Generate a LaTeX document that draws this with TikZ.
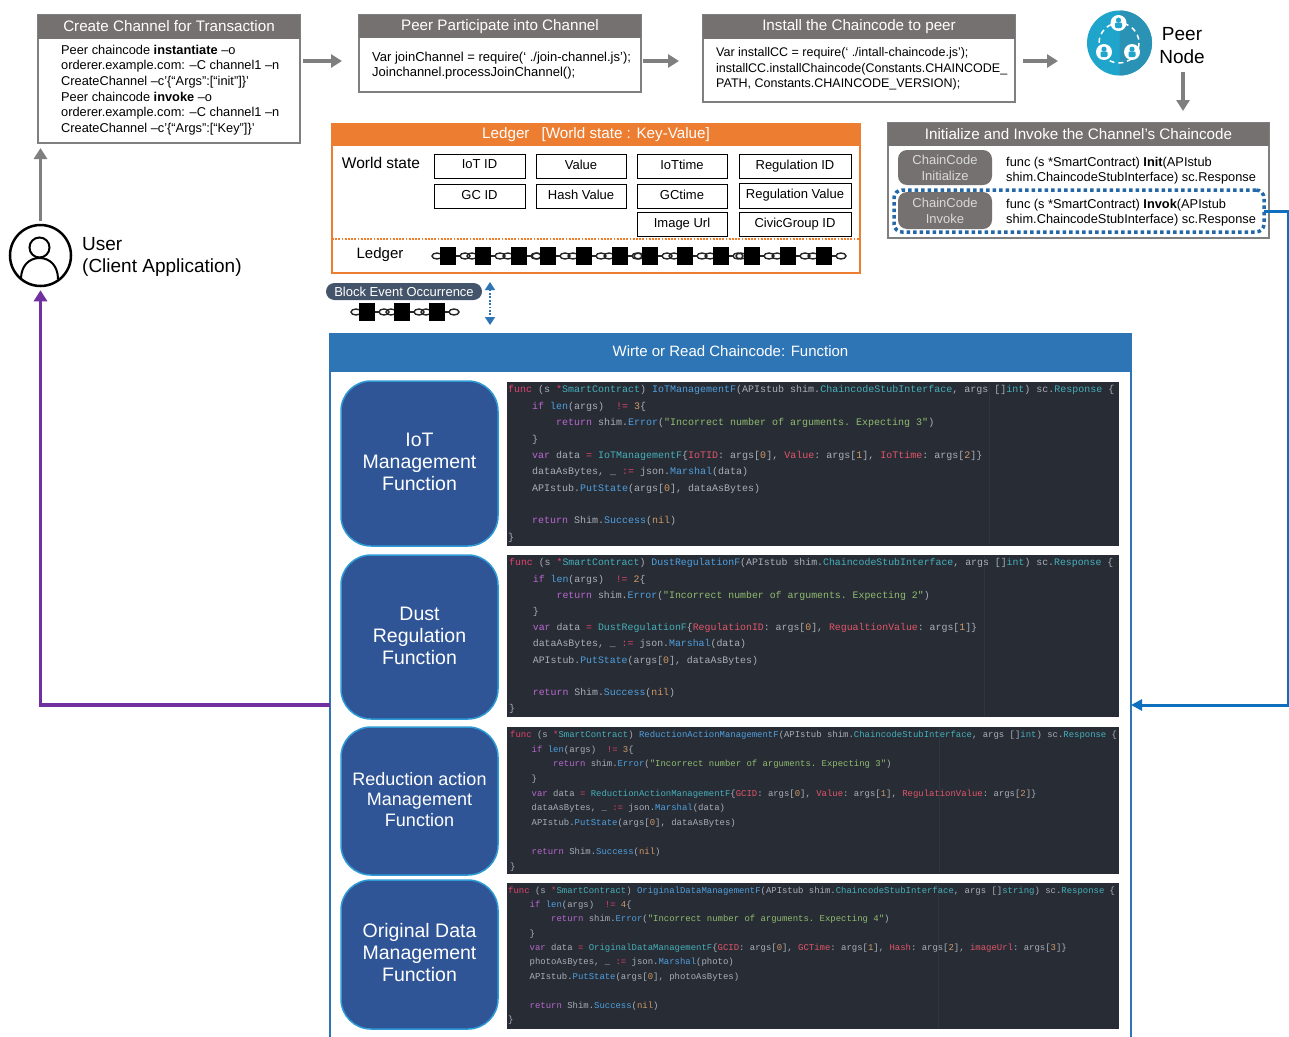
\documentclass[tikz,border=0pt]{standalone}
\usepackage{fontspec}
\setmainfont{Liberation Sans}
\setmonofont{Liberation Mono}
\usetikzlibrary{arrows.meta,calc}
\definecolor{hdgray}{HTML}{767171}
\definecolor{framegray}{HTML}{7F7F7F}
\definecolor{ledgerorange}{HTML}{ED7D31}
\definecolor{panelblue}{HTML}{2E75B6}
\definecolor{fnblue}{HTML}{2F5597}
\definecolor{fnedge}{HTML}{2E9AD6}
\definecolor{pillslate}{HTML}{44546A}
\definecolor{dotblue}{HTML}{2468A8}
\definecolor{userpurple}{HTML}{7030A0}
\definecolor{linkblue}{HTML}{0F6FBF}
\definecolor{peerteal}{HTML}{1FA5CB}
\definecolor{peerdark}{HTML}{2A92B4}
\definecolor{codebg}{HTML}{282C34}
\definecolor{codeline}{HTML}{30353F}
\definecolor{cPlain}{HTML}{A9AFBA}
\definecolor{cFunc}{HTML}{E0446E}
\definecolor{cKey}{HTML}{B868D0}
\definecolor{cFn}{HTML}{4FA0E0}
\definecolor{cType}{HTML}{45B0BC}
\definecolor{cStr}{HTML}{90BC70}
\definecolor{cNum}{HTML}{D19A66}
\definecolor{cField}{HTML}{E0566A}
\newcommand{\cF}[1]{\textcolor{cFunc}{#1}}
\newcommand{\cK}[1]{\textcolor{cKey}{#1}}
\newcommand{\cB}[1]{\textcolor{cFn}{#1}}
\newcommand{\cT}[1]{\textcolor{cType}{#1}}
\newcommand{\cS}[1]{\textcolor{cStr}{#1}}
\newcommand{\cN}[1]{\textcolor{cNum}{#1}}
\newcommand{\cR}[1]{\textcolor{cField}{#1}}
\newcommand{\inA}{\phantom{0000}}
\newcommand{\inB}{\phantom{00000000}}
% name, x1, y1, x2, y2, style, text
\newcommand{\rnode}[7]{\node[inner sep=0pt,outer sep=0pt,anchor=north west,minimum width={(#4-(#2))*1pt},minimum height={(#5-(#3))*1pt},#6] (#1) at (#2,#3) {#7};}
% prefix, y, block list
\newcommand{\chainrow}[3]{%
  \foreach \bx in {#3} {
    \draw[chainlink] (\bx-11,#2) ellipse [x radius=5,y radius=3];
    \draw[chainlink] (\bx+17,#2) ellipse [x radius=5,y radius=3];
    \draw[chainlink] (\bx+7,#2) -- (\bx+12,#2);
  }
  \foreach \bx in {#3} {
    \node[chainblock] (#1\bx) at (\bx,#2) {};
  }
}
% name, x, y
\newcommand{\peerperson}[3]{%
  \node[circle,fill=white,minimum size=16pt,inner sep=0pt] (#1) at (#2,#3) {};
  \fill[peerteal] (#2,#3-2.8) circle [radius=2.6];
  \fill[peerteal,rounded corners=1.2pt] (#2-3.5,#3+5) rectangle (#2+3.5,#3-0.5);
}
\tikzset{
  x=1pt,y=-1pt,
  frame/.style={draw=framegray,line width=2pt,fill=white},
  header/.style={fill=hdgray,text=white,font=\fontsize{15.2}{18}\selectfont},
  body/.style={anchor=west,inner sep=0pt,align=left,font=\fontsize{12.8}{15.6}\selectfont},
  garrow/.style={draw=framegray,line width=3.5pt,-{Triangle[length=11pt,width=13pt]}},
  cell/.style={draw=black,line width=1pt,fill=white,text depth=3pt,font=\fontsize{13}{15}\selectfont},
  pill/.style={fill=hdgray,rounded corners=9pt,text=black!15,align=center,font=\fontsize{13}{16.2}\selectfont},
  fnbox/.style={fill=fnblue,draw=fnedge,line width=1.5pt,rounded corners=30pt,text=white,align=center},
  codepanel/.style={fill=codebg},
  codetext/.style={anchor=north west,inner sep=0pt,align=left,text=cPlain},
  chainlink/.style={draw=black!85,line width=1.4pt},
  chainblock/.style={fill=black,minimum width=16pt,minimum height=17.5pt,inner sep=0pt},
}
\begin{document}
\begin{tikzpicture}
\useasboundingbox (0,0) rectangle (1289,1036);
\clip (0,0) rectangle (1289,1036);
\fill[white] (0,0) rectangle (1289,1036);

% main panel
\rnode{mainp}{330}{334}{1131}{1070}{draw=panelblue,line width=2pt,fill=white}{}
\rnode{mainh}{330}{334}{1131}{372}{fill=panelblue,text=white,text depth=4pt,font=\fontsize{15}{17}\selectfont}{Wirte or Read Chaincode: Function}

% top boxes
\rnode{b1}{38}{15}{300}{143}{frame}{}
\rnode{b1h}{38}{15}{300}{39}{header,text depth=2pt}{Create Channel for Transaction}
\node[body] (b1t) at (61,90) {Peer chaincode \textbf{instantiate} –o\\orderer.example.com: –C channel1 –n\\CreateChannel –c'\{“Args”:[“init”]\}'\\Peer chaincode \textbf{invoke} –o\\orderer.example.com: –C channel1 –n\\CreateChannel –c'\{“Args”:[“Key”]\}'};

\rnode{b2}{359}{15}{641}{92}{frame}{}
\rnode{b2h}{359}{15}{641}{38}{header}{Peer Participate into Channel}
\node[body,font=\fontsize{13}{15.5}\selectfont] (b2t) at (372,65.5) {Var joinChannel = require(‘ ./join-channel.js’);\\Joinchannel.processJoinChannel();};

\rnode{b3}{703}{15}{1015}{102}{frame}{}
\rnode{b3h}{703}{15}{1015}{39}{header}{Install the Chaincode to peer}
\node[body,font=\fontsize{12.5}{15.5}\selectfont] (b3t) at (716,69) {Var installCC = require(‘ ./intall-chaincode.js’);\\installCC.installChaincode(Constants.CHAINCODE\_\\PATH, Constants.CHAINCODE\_VERSION);};

% peer icon
\fill[peerteal] (1119.5,43) circle [radius=32.5];
\fill[peerdark] (1119.5,10.5) arc [start angle=-90,end angle=90,radius=32.5] -- cycle;
\draw[white,line width=1.5pt,dash pattern=on 5pt off 4pt] (1119,43) circle [radius=20];
\peerperson{pp1}{1118.5}{23}
\peerperson{pp2}{1104}{52}
\peerperson{pp3}{1132}{52}
\node[font=\fontsize{19}{23}\selectfont,align=center,inner sep=0pt] (peer) at (1182,45.5) {Peer\\Node};
\coordinate (peerarrow) at (1183,72);

% chaincode box
\rnode{b4}{888}{123}{1269}{238}{frame}{}
\rnode{b4h}{888}{123}{1269}{146}{header}{Initialize and Invoke the Channel’s Chaincode}
\rnode{dots}{894}{190}{1264}{232}{draw=dotblue,line width=3.5pt,dash pattern=on 3.5pt off 3pt,rounded corners=8pt}{}
\rnode{pinit}{898}{150}{992}{185}{pill}{ChainCode\\Initialize}
\rnode{pinv}{898}{192}{992}{229}{pill}{ChainCode\\Invoke}
\node[body] (t1) at (1006,170.5) {func (s *SmartContract) \textbf{Init}(APIstub\\shim.ChaincodeStubInterface) sc.Response};
\node[body] (t2) at (1006,212.5) {func (s *SmartContract) \textbf{Invok}(APIstub\\shim.ChaincodeStubInterface) sc.Response};

% ledger
\rnode{led}{332}{124}{860}{273}{draw=ledgerorange,line width=2.5pt,fill=white}{}
\rnode{ledh}{332}{124}{860}{146}{fill=ledgerorange,text=white,font=\fontsize{15.2}{17}\selectfont}{\raisebox{-1.5pt}{Ledger\hspace{0.8em}[World state : Key-Value]}}
\node[font=\fontsize{15.5}{18}\selectfont,inner sep=0pt] (ws) at (381,163) {World state};
\rnode{c11}{434}{154}{525}{178}{cell}{IoT ID}
\rnode{c12}{536}{154}{626}{178}{cell}{Value}
\rnode{c13}{637}{154}{727}{178}{cell}{IoTtime}
\rnode{c14}{739}{154}{851}{178}{cell}{Regulation ID}
\rnode{c21}{434}{184}{525}{208}{cell}{GC ID}
\rnode{c22}{536}{184}{626}{208}{cell}{Hash Value}
\rnode{c23}{637}{184}{727}{208}{cell}{GCtime}
\rnode{c24}{739}{183}{851}{208}{cell}{Regulation Value}
\rnode{c33}{637}{212}{727}{236}{cell}{Image Url}
\rnode{c34}{739}{212}{851}{236}{cell}{CivicGroup ID}
\draw[ledgerorange,line width=1.8pt,dash pattern=on 1.8pt off 1.4pt] (led.west |- 0,239) -- (led.east |- 0,239);
\node[font=\fontsize{15}{18}\selectfont,inner sep=0pt] (ledl) at (380,255) {Ledger};
\chainrow{lb}{256}{448,483,519,548,584,620,650,685,721,752,788,824}

% block event
\rnode{bev}{326}{283}{482}{300}{fill=pillslate,rounded corners=8.5pt,text=white,font=\fontsize{13}{15}\selectfont}{Block Event Occurrence}
\chainrow{sb}{312}{367,402,437}
\coordinate (da) at (490,282);
\coordinate (db) at (490,325);
\draw[panelblue,line width=1.5pt,dash pattern=on 1.8pt off 1.6pt,{Triangle[length=8pt,width=10pt]}-{Triangle[length=8pt,width=10pt]}] (da) -- (db);

% user
\node[circle,draw=black,line width=2.5pt,minimum size=61pt,inner sep=0pt] (user) at (40.5,255.5) {};
\draw[black,line width=2pt] (39.5,247.5) circle [radius=10];
\draw[black,line width=2pt] (21,279) .. controls (21,266) and (29,258) .. (39.5,258) .. controls (50,258) and (58,266) .. (58,279);
\node[font=\fontsize{19}{22}\selectfont,anchor=west,align=left,inner sep=0pt] (usert) at (82,257) {User\\(Client Application)};

% function boxes
\rnode{f1}{341}{381}{498}{546}{fnbox,text depth=4pt,font=\fontsize{19.5}{22}\selectfont}{IoT\\Management\\Function}
\rnode{f2}{341}{555}{498}{719}{fnbox,text depth=2pt,font=\fontsize{19.5}{22}\selectfont}{Dust\\Regulation\\Function}
\rnode{f3}{341}{727}{498}{875}{fnbox,text depth=4pt,font=\fontsize{18}{20.5}\selectfont}{Reduction action\\Management\\Function}
\rnode{f4}{341}{880}{498}{1029}{fnbox,text depth=4pt,font=\fontsize{19.5}{22}\selectfont}{Original Data\\Management\\Function}

% code panels
\rnode{p1}{507}{382}{1119}{546}{codepanel}{}
\draw[codeline] (989,383) -- (989,545);
\node[codetext,font=\ttfamily\fontsize{10}{16.35}\selectfont] (p1t) at (508,385.5) {\cF{func} (s \cF{*}\cT{SmartContract}) \cB{IoTManagementF}(APIstub shim.\cT{ChaincodeStubInterface}, args []\cT{int}) sc.\cT{Response} \{\\
\inA\cK{if} \cB{len}(args)\ \ \cF{!=} \cN{3}\{\\
\inB\cK{return} shim.\cB{Error}(\cS{"Incorrect number of arguments. Expecting 3"})\\
\inA\}\\
\inA\cK{var} data \cF{=} \cT{IoTManagementF}\{\cR{IoTID}: args[\cN{0}], \cR{Value}: args[\cN{1}], \cR{IoTtime}: args[\cN{2}]\}\\
\inA dataAsBytes, \_ \cF{:=} json.\cB{Marshal}(data)\\
\inA APIstub.\cB{PutState}(args[\cN{0}], dataAsBytes)\\
\\
\inA\cK{return} Shim.\cB{Success}(\cN{nil})\\
\}};

\rnode{p2}{507}{555}{1119}{717}{codepanel}{}
\draw[codeline] (984,556) -- (984,716);
\node[codetext,font=\ttfamily\fontsize{9.87}{16.2}\selectfont] (p2t) at (509,558.5) {\cF{func} (s \cF{*}\cT{SmartContract}) \cB{DustRegulationF}(APIstub shim.\cT{ChaincodeStubInterface}, args []\cT{int}) sc.\cT{Response} \{\\
\inA\cK{if} \cB{len}(args)\ \ \cF{!=} \cN{2}\{\\
\inB\cK{return} shim.\cB{Error}(\cS{"Incorrect number of arguments. Expecting 2"})\\
\inA\}\\
\inA\cK{var} data \cF{=} \cT{DustRegulationF}\{\cR{RegulationID}: args[\cN{0}], \cR{RegualtionValue}: args[\cN{1}]\}\\
\inA dataAsBytes, \_ \cF{:=} json.\cB{Marshal}(data)\\
\inA APIstub.\cB{PutState}(args[\cN{0}], dataAsBytes)\\
\\
\inA\cK{return} Shim.\cB{Success}(\cN{nil})\\
\}};

\rnode{p3}{507}{727}{1119}{874}{codepanel}{}
\draw[codeline] (939,728) -- (939,873);
\node[codetext,font=\ttfamily\fontsize{8.95}{14.6}\selectfont] (p3t) at (510,731) {\cF{func} (s \cF{*}\cT{SmartContract}) \cB{ReductionActionManagementF}(APIstub shim.\cT{ChaincodeStubInterface}, args []\cT{int}) sc.\cT{Response} \{\\
\inA\cK{if} \cB{len}(args)\ \ \cF{!=} \cN{3}\{\\
\inB\cK{return} shim.\cB{Error}(\cS{"Incorrect number of arguments. Expecting 3"})\\
\inA\}\\
\inA\cK{var} data \cF{=} \cT{ReductionActionManagementF}\{\cR{GCID}: args[\cN{0}], \cR{Value}: args[\cN{1}], \cR{RegulationValue}: args[\cN{2}]\}\\
\inA dataAsBytes, \_ \cF{:=} json.\cB{Marshal}(data)\\
\inA APIstub.\cB{PutState}(args[\cN{0}], dataAsBytes)\\
\\
\inA\cK{return} Shim.\cB{Success}(\cN{nil})\\
\}};

\rnode{p4}{507}{883}{1119}{1029}{codepanel}{}
\draw[codeline] (938,884) -- (938,1028);
\node[codetext,font=\ttfamily\fontsize{8.95}{14.35}\selectfont] (p4t) at (508,886.5) {\cF{func} (s \cF{*}\cT{SmartContract}) \cB{OriginalDataManagementF}(APIstub shim.\cT{ChaincodeStubInterface}, args []\cT{string}) sc.\cT{Response} \{\\
\inA\cK{if} \cB{len}(args)\ \ \cF{!=} \cN{4}\{\\
\inB\cK{return} shim.\cB{Error}(\cS{"Incorrect number of arguments. Expecting 4"})\\
\inA\}\\
\inA\cK{var} data \cF{=} \cT{OriginalDataManagementF}\{\cR{GCID}: args[\cN{0}], \cR{GCTime}: args[\cN{1}], \cR{Hash}: args[\cN{2}], \cR{imageUrl}: args[\cN{3}]\}\\
\inA photoAsBytes, \_ \cF{:=} json.\cB{Marshal}(photo)\\
\inA APIstub.\cB{PutState}(args[\cN{0}], photoAsBytes)\\
\\
\inA\cK{return} Shim.\cB{Success}(\cN{nil})\\
\}};

% connectors
\coordinate (rowtop) at (0,61);
\coordinate (rowmain) at (0,705);
\coordinate (rowinv) at (0,211);
\coordinate (edge) at (1288,0);
\draw[garrow,shorten <=3pt,shorten >=17pt] (b1.east |- rowtop) -- (b2.west |- rowtop);
\draw[garrow,shorten <=2pt,shorten >=24pt] (b2.east |- rowtop) -- (b3.west |- rowtop);
\draw[garrow,shorten <=8pt,shorten >=28pt] (b3.east |- rowtop) -- (1086,61);
\draw[garrow,shorten >=12pt] (peerarrow) -- (peerarrow |- b4.north);
\draw[garrow,shorten <=3pt,shorten >=5pt] (user.north) -- (user.north |- b1.south);
\draw[userpurple,line width=3.5pt,-{Triangle[length=11pt,width=13pt]},shorten >=3pt] (mainp.west |- rowmain) -- (user.south |- rowmain) -- (user.south);
\draw[linkblue,line width=3pt,-{Triangle[length=11pt,width=11pt]}] (dots.east |- rowinv) -- (edge |- rowinv) -- (edge |- rowmain) -- (mainp.east |- rowmain);
\end{tikzpicture}
\end{document}
